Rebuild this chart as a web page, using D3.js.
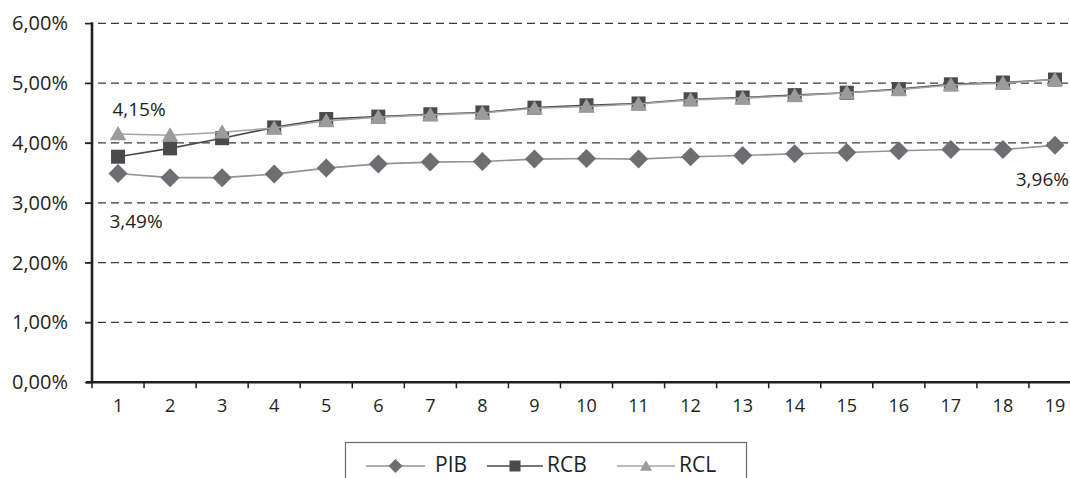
<!DOCTYPE html>
<html>
<head>
<meta charset="utf-8">
<script src="https://cdn.jsdelivr.net/npm/d3@7"></script>
<style>
  body { margin: 0; background: #fff; }
  text { font-family: "Open Sans", "Noto Sans", sans-serif; fill: #231f20; }
</style>
</head>
<body>
<svg id="chart" width="1070" height="478"></svg>
<script>
// Periods on the horizontal axis
const periods = ["1","2","3","4","5","6","7","8","9","10","11","12","13","14","15","16","17","18","19"];

// Growth rates (%) per period
const pib = [3.49, 3.42, 3.42, 3.48, 3.58, 3.65, 3.68, 3.69, 3.73, 3.74, 3.73, 3.77, 3.79, 3.82, 3.84, 3.87, 3.89, 3.89, 3.96];
const rcb = [3.77, 3.91, 4.08, 4.26, 4.40, 4.44, 4.48, 4.51, 4.59, 4.63, 4.66, 4.73, 4.76, 4.80, 4.84, 4.90, 4.98, 5.01, 5.06];
const rcl = [4.15, 4.13, 4.18, 4.25, 4.37, 4.43, 4.47, 4.50, 4.58, 4.61, 4.65, 4.72, 4.75, 4.79, 4.84, 4.89, 4.97, 5.00, 5.06];

const seriesNames = ["PIB", "RCB", "RCL"];
const yTicks = [0, 1, 2, 3, 4, 5, 6];

const locale = d3.formatLocale({ decimal: ",", thousands: ".", grouping: [3], currency: ["", " €"] });
const pct = v => locale.format(".2f")(v) + "%";

const svg = d3.select("#chart");
const W = 1070;

const x = d3.scaleBand().domain(periods).range([92, 1081]).padding(0);
const y = d3.scaleLinear().domain([0, 6]).range([382.3, 23.3]);

// Dashed horizontal gridlines
svg.append("g")
  .selectAll("line")
  .data(yTicks.filter(t => t > 0))
  .join("line")
  .attr("x1", 85).attr("x2", W)
  .attr("y1", d => y(d)).attr("y2", d => y(d))
  .attr("stroke", "#3a3a3a")
  .attr("stroke-width", 1.3)
  .attr("stroke-dasharray", "8,5");

// Y axis
const yAxis = svg.append("g")
  .attr("transform", "translate(92,0)")
  .call(d3.axisLeft(y).tickValues(yTicks).tickFormat(pct).tickSize(7).tickPadding(17));
yAxis.select(".domain").attr("stroke", "#231f20").attr("stroke-width", 2.6).attr("d", `M0,${y(6) - 1}V${y(0)}`);
yAxis.selectAll(".tick line").attr("stroke", "#231f20").attr("stroke-width", 1.3);
yAxis.selectAll(".tick text").attr("font-size", 20).attr("fill", "#231f20").style("font-family", '"Open Sans", sans-serif');

// X axis: labels centred in bands, tick marks at band edges
const xAxis = svg.append("g")
  .attr("transform", `translate(0,${y(0)})`)
  .call(d3.axisBottom(x).tickSize(0).tickPadding(17));
xAxis.select(".domain").attr("stroke", "#231f20").attr("stroke-width", 2.6).attr("d", `M86,0H${W}`);
xAxis.selectAll(".tick text").attr("font-size", 18).attr("fill", "#231f20").style("font-family", '"Open Sans", sans-serif');
xAxis.append("g")
  .selectAll("line")
  .data(periods)
  .join("line")
  .attr("x1", d => x(d)).attr("x2", d => x(d))
  .attr("y1", 0).attr("y2", 6)
  .attr("stroke", "#231f20").attr("stroke-width", 1.5);

// Marker shapes
function drawMarker(g, kind, cx, cy, s) {
  if (kind === "diamond") {
    g.append("path")
      .attr("d", `M${cx},${cy - s}L${cx + s},${cy}L${cx},${cy + s}L${cx - s},${cy}Z`)
      .attr("fill", "#6d6e71");
  } else if (kind === "square") {
    g.append("rect")
      .attr("x", cx - s).attr("y", cy - s).attr("width", 2 * s).attr("height", 2 * s)
      .attr("fill", "#4a4a4c");
  } else {
    g.append("path")
      .attr("d", `M${cx},${cy - s * 1.05}L${cx + s * 1.1},${cy + s * 0.85}L${cx - s * 1.1},${cy + s * 0.85}Z`)
      .attr("fill", "#9b9b9d");
  }
}

const series = [
  { name: seriesNames[0], values: pib, line: "#939395", kind: "diamond", size: 9.5 },
  { name: seriesNames[1], values: rcb, line: "#4a4a4c", kind: "square", size: 7 },
  { name: seriesNames[2], values: rcl, line: "#a4a4a6", kind: "triangle", size: 7.5 }
];

const cx = i => x(periods[i]) + x.bandwidth() / 2;
const line = d3.line().x((d, i) => cx(i)).y(d => y(d));

series.forEach(s => {
  const g = svg.append("g");
  g.append("path")
    .datum(s.values)
    .attr("d", line)
    .attr("fill", "none")
    .attr("stroke", s.line)
    .attr("stroke-width", 1.6);
  s.values.forEach((v, i) => drawMarker(g, s.kind, cx(i), y(v), s.size));
});

// Value annotations
svg.append("text").attr("x", cx(0) + 21).attr("y", y(rcl[0]) - 18)
  .attr("text-anchor", "middle").attr("font-size", 19).text(pct(rcl[0]));
svg.append("text").attr("x", cx(0) + 18).attr("y", y(pib[0]) + 55)
  .attr("text-anchor", "middle").attr("font-size", 19).text(pct(pib[0]));
svg.append("text").attr("x", cx(18) + 14).attr("y", y(pib[18]) + 41)
  .attr("text-anchor", "end").attr("font-size", 19).text(pct(pib[18]));

// Legend
const legend = svg.append("g");
const legendY = 464.5;
legend.append("rect")
  .attr("x", 345.5).attr("y", 442.5).attr("width", 401).attr("height", 50)
  .attr("fill", "#fff").attr("stroke", "#6a6a6a").attr("stroke-width", 1.2);
const legendItems = [
  { s: series[0], x1: 366, x2: 425, tx: 435, size: 7 },
  { s: series[1], x1: 487, x2: 543, tx: 547, size: 5.5 },
  { s: series[2], x1: 617, x2: 675, tx: 679, size: 5.5 }
];
legendItems.forEach(it => {
  legend.append("line")
    .attr("x1", it.x1).attr("x2", it.x2).attr("y1", legendY + 1.5).attr("y2", legendY + 1.5)
    .attr("stroke", it.s.line).attr("stroke-width", 1.6);
  drawMarker(legend, it.s.kind, (it.x1 + it.x2) / 2, legendY + 1.5, it.size);
  legend.append("text")
    .attr("x", it.tx).attr("y", legendY).attr("dy", "0.35em")
    .attr("font-size", 21).text(it.s.name);
});
</script>
</body>
</html>
